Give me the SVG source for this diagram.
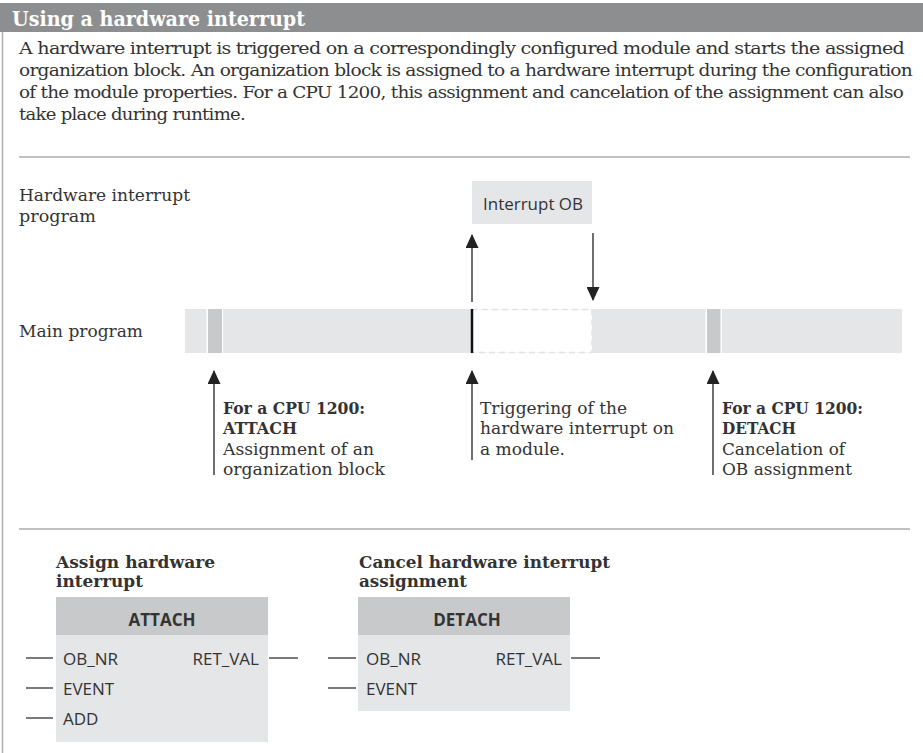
<svg xmlns="http://www.w3.org/2000/svg" width="923" height="753" viewBox="0 0 923 753">
  <style>
    .serif { font-family: "DejaVu Serif", "Liberation Serif", serif; font-size: 17.5px; fill: #333; }
    .serif-b { font-family: "DejaVu Serif", "Liberation Serif", serif; font-size: 17.5px; font-weight: bold; fill: #333; }
    .para { letter-spacing: -0.7px; }
    .sans { font-family: "Open Sans", "Noto Sans", sans-serif; font-size: 17px; fill: #333; }
    .sans-b { font-family: "Open Sans", "Noto Sans", sans-serif; font-size: 17px; font-weight: bold; fill: #333; }
    .rule { stroke: #acadaf; stroke-width: 1.5; fill: none; }
    .bar { fill: #e5e6e7; }
    .mark { fill: #c8c9ca; }
    .gap { fill: #ffffff; }
    .conn { stroke: #222; stroke-width: 1.3; fill: none; }
    .pin { stroke: #333; stroke-width: 1.3; fill: none; }
  </style>
  <defs>
    <marker id="head" markerUnits="userSpaceOnUse" markerWidth="14" markerHeight="13" refX="13" refY="6.5" orient="auto">
      <path d="M0,0 L14,6.5 L0,13 Z" fill="#222"/>
    </marker>
  </defs>

  <rect width="923" height="753" fill="#ffffff"/>

  <!-- title bar -->
  <g id="title">
    <rect x="0" y="3" width="923" height="29" fill="#8d8e90"/>
    <text x="12" y="25.5" font-family="DejaVu Serif, Liberation Serif, serif" font-size="21" font-weight="bold" fill="#ffffff" textLength="293" lengthAdjust="spacingAndGlyphs">Using a hardware interrupt</text>
  </g>

  <!-- frame edge -->
  <line x1="2.5" y1="32" x2="2.5" y2="753" stroke="#acadaf" stroke-width="1.5"/>

  <!-- intro paragraph -->
  <g id="intro">
    <text class="serif para" x="19" y="54" textLength="885" lengthAdjust="spacingAndGlyphs">A hardware interrupt is triggered on a correspondingly configured module and starts the assigned</text>
    <text class="serif para" x="19" y="76" textLength="893" lengthAdjust="spacingAndGlyphs">organization block. An organization block is assigned to a hardware interrupt during the configuration</text>
    <text class="serif para" x="19" y="98" textLength="884" lengthAdjust="spacingAndGlyphs">of the module properties. For a CPU 1200, this assignment and cancelation of the assignment can also</text>
    <text class="serif para" x="19" y="120" textLength="226" lengthAdjust="spacingAndGlyphs">take place during runtime.</text>
  </g>

  <line class="rule" x1="19" y1="157" x2="910" y2="157"/>

  <!-- level labels -->
  <g id="label-hw">
    <text class="serif" x="19" y="201" textLength="171" lengthAdjust="spacingAndGlyphs">Hardware interrupt</text>
    <text class="serif" x="19" y="222" textLength="77" lengthAdjust="spacingAndGlyphs">program</text>
  </g>
  <g id="label-main">
    <text class="serif" x="19" y="337" textLength="124" lengthAdjust="spacingAndGlyphs">Main program</text>
  </g>

  <!-- interrupt OB block -->
  <g id="interrupt-ob">
    <rect x="472" y="181" width="120" height="43" fill="#e5e6e7"/>
    <text class="sans" x="483" y="210" textLength="100" lengthAdjust="spacingAndGlyphs">Interrupt OB</text>
  </g>

  <!-- main program timeline -->
  <g id="main-bar">
    <rect class="bar" x="185" y="309" width="717" height="44"/>
    <rect class="gap" x="206.5" y="309" width="16.5" height="44"/>
    <rect class="mark" x="208" y="309" width="14" height="44"/>
    <rect class="gap" x="705.5" y="309" width="16.5" height="44"/>
    <rect class="mark" x="707" y="309" width="13.5" height="44"/>
    <rect x="472" y="309.5" width="120" height="43" fill="#ffffff" stroke="#e2e3e4" stroke-width="1.5" stroke-dasharray="6 4"/>
    <line x1="472" y1="309" x2="472" y2="353" stroke="#111" stroke-width="2.5"/>
  </g>

  <!-- connectors -->
  <g id="connectors">
    <line class="conn" x1="472" y1="302" x2="472" y2="235" marker-end="url(#head)"/>
    <line class="conn" x1="593" y1="233" x2="593" y2="300" marker-end="url(#head)"/>
    <line class="conn" x1="214" y1="475" x2="214" y2="371" marker-end="url(#head)"/>
    <line class="conn" x1="472" y1="460" x2="472" y2="371" marker-end="url(#head)"/>
    <line class="conn" x1="713" y1="475" x2="713" y2="371" marker-end="url(#head)"/>
  </g>

  <!-- annotations -->
  <g id="note-attach">
    <text class="serif-b" x="223" y="414" textLength="142" lengthAdjust="spacingAndGlyphs">For a CPU 1200:</text>
    <text class="serif-b" x="223" y="434" textLength="74" lengthAdjust="spacingAndGlyphs">ATTACH</text>
    <text class="serif" x="223" y="455" textLength="151" lengthAdjust="spacingAndGlyphs">Assignment of an</text>
    <text class="serif" x="223" y="475" textLength="162" lengthAdjust="spacingAndGlyphs">organization block</text>
  </g>
  <g id="note-trigger">
    <text class="serif" x="480" y="414" textLength="147" lengthAdjust="spacingAndGlyphs">Triggering of the</text>
    <text class="serif" x="480" y="434" textLength="194" lengthAdjust="spacingAndGlyphs">hardware interrupt on</text>
    <text class="serif" x="480" y="455" textLength="85" lengthAdjust="spacingAndGlyphs">a module.</text>
  </g>
  <g id="note-detach">
    <text class="serif-b" x="722" y="414" textLength="141" lengthAdjust="spacingAndGlyphs">For a CPU 1200:</text>
    <text class="serif-b" x="722" y="434" textLength="74" lengthAdjust="spacingAndGlyphs">DETACH</text>
    <text class="serif" x="722" y="455" textLength="123" lengthAdjust="spacingAndGlyphs">Cancelation of</text>
    <text class="serif" x="722" y="475" textLength="130" lengthAdjust="spacingAndGlyphs">OB assignment</text>
  </g>

  <line class="rule" x1="19" y1="529" x2="910" y2="529"/>

  <!-- ATTACH instruction -->
  <g id="block-attach">
    <text class="serif-b" x="56" y="568" textLength="159" lengthAdjust="spacingAndGlyphs">Assign hardware</text>
    <text class="serif-b" x="56" y="587" textLength="87" lengthAdjust="spacingAndGlyphs">interrupt</text>
    <rect x="56" y="597" width="212" height="38" fill="#c8c9ca"/>
    <rect x="56" y="635" width="212" height="107" fill="#e5e6e7"/>
    <text class="sans-b" x="162" y="626" text-anchor="middle">ATTACH</text>
    <text class="sans" x="63" y="665">OB_NR</text>
    <text class="sans" x="63" y="695">EVENT</text>
    <text class="sans" x="63" y="725">ADD</text>
    <text class="sans" x="259" y="665" text-anchor="end">RET_VAL</text>
    <line class="pin" x1="26" y1="658" x2="53" y2="658"/>
    <line class="pin" x1="26" y1="688" x2="53" y2="688"/>
    <line class="pin" x1="26" y1="718" x2="53" y2="718"/>
    <line class="pin" x1="269" y1="658" x2="298" y2="658"/>
  </g>

  <!-- DETACH instruction -->
  <g id="block-detach">
    <text class="serif-b" x="359" y="568" textLength="251" lengthAdjust="spacingAndGlyphs">Cancel hardware interrupt</text>
    <text class="serif-b" x="359" y="587" textLength="108" lengthAdjust="spacingAndGlyphs">assignment</text>
    <rect x="358" y="597" width="212" height="38" fill="#c8c9ca"/>
    <rect x="358" y="635" width="212" height="76" fill="#e5e6e7"/>
    <text class="sans-b" x="467" y="626" text-anchor="middle">DETACH</text>
    <text class="sans" x="366" y="665">OB_NR</text>
    <text class="sans" x="366" y="695">EVENT</text>
    <text class="sans" x="562" y="665" text-anchor="end">RET_VAL</text>
    <line class="pin" x1="328" y1="658" x2="356" y2="658"/>
    <line class="pin" x1="328" y1="688" x2="356" y2="688"/>
    <line class="pin" x1="571" y1="658" x2="600" y2="658"/>
  </g>
</svg>
